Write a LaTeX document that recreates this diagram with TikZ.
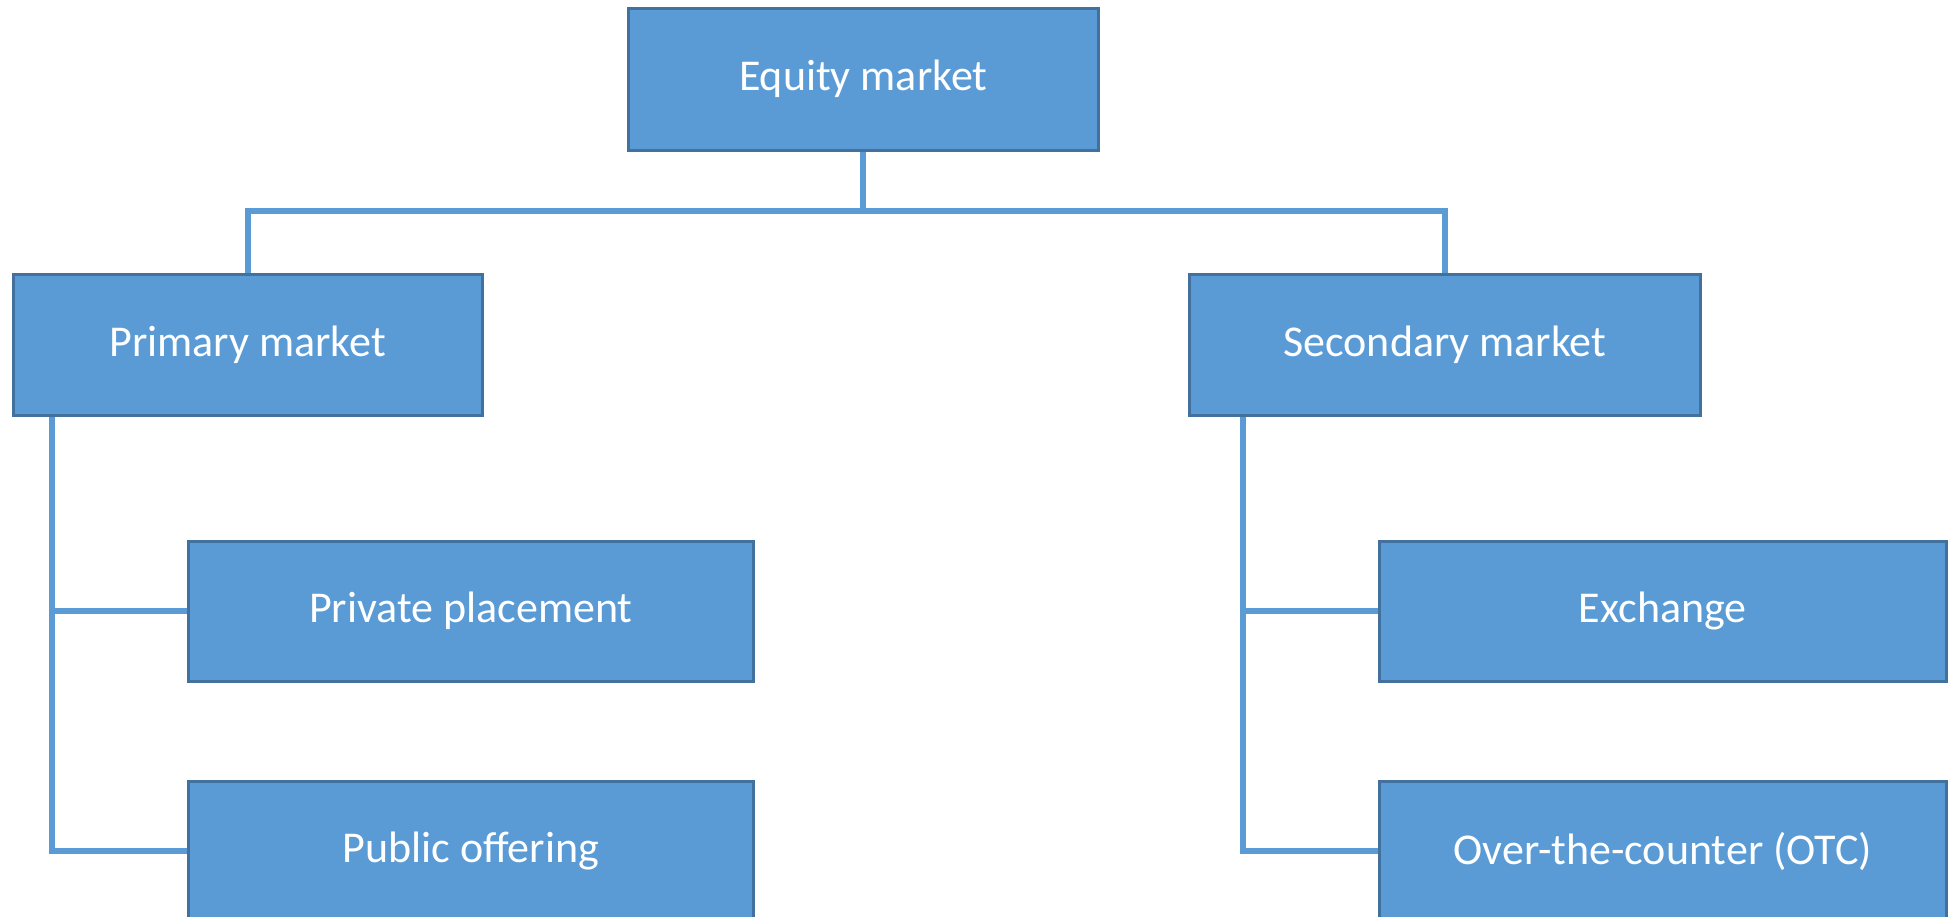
\documentclass[tikz,border=0pt]{standalone}
\usepackage{fontspec}
\setmainfont{Carlito}
\definecolor{boxfill}{HTML}{5B9BD5}
\definecolor{boxline}{HTML}{41719C}
\begin{document}
\begin{tikzpicture}[x=1pt,y=-1pt,
  mkt/.style={draw=boxline, line width=2.5pt, fill=boxfill, text=white,
    font=\fontsize{44}{52}\selectfont, inner sep=0pt, anchor=north west},
  link/.style={draw=boxfill, line width=6pt}]
\useasboundingbox (0,0) rectangle (1955,916);
\clip (0,0) rectangle (1955,916);
% boxes
\node[mkt, minimum width=470, minimum height=142] (eq)   at (627,7)   {Equity market};
\node[mkt, minimum width=469, minimum height=141] (prim) at (12,273)  {Primary market};
\node[mkt, minimum width=511, minimum height=141] (sec)  at (1188,273){Secondary market};
\node[mkt, minimum width=565, minimum height=140] (priv) at (187,540) {Private placement};
\node[mkt, minimum width=565, minimum height=140] (pub)  at (187,780) {Public offering};
\node[mkt, minimum width=567, minimum height=140] (exch) at (1378,540){Exchange};
\node[mkt, minimum width=567, minimum height=140] (otc)  at (1378,780){Over-the-counter (OTC)};
% connectors
\coordinate (bus) at (0,211);
\draw[link] (eq.south) -- (eq.south |- bus);
\draw[link] (eq.south |- bus) -| (prim.north);
\draw[link] (eq.south |- bus) -| (sec.north);
\coordinate (ptrunk) at ([xshift=40pt]prim.south west);
\coordinate (strunk) at ([xshift=55pt]sec.south west);
\draw[link] (ptrunk) |- (priv.west);
\draw[link] (ptrunk) |- (pub.west);
\draw[link] (strunk) |- (exch.west);
\draw[link] (strunk) |- (otc.west);
\end{tikzpicture}
\end{document}
